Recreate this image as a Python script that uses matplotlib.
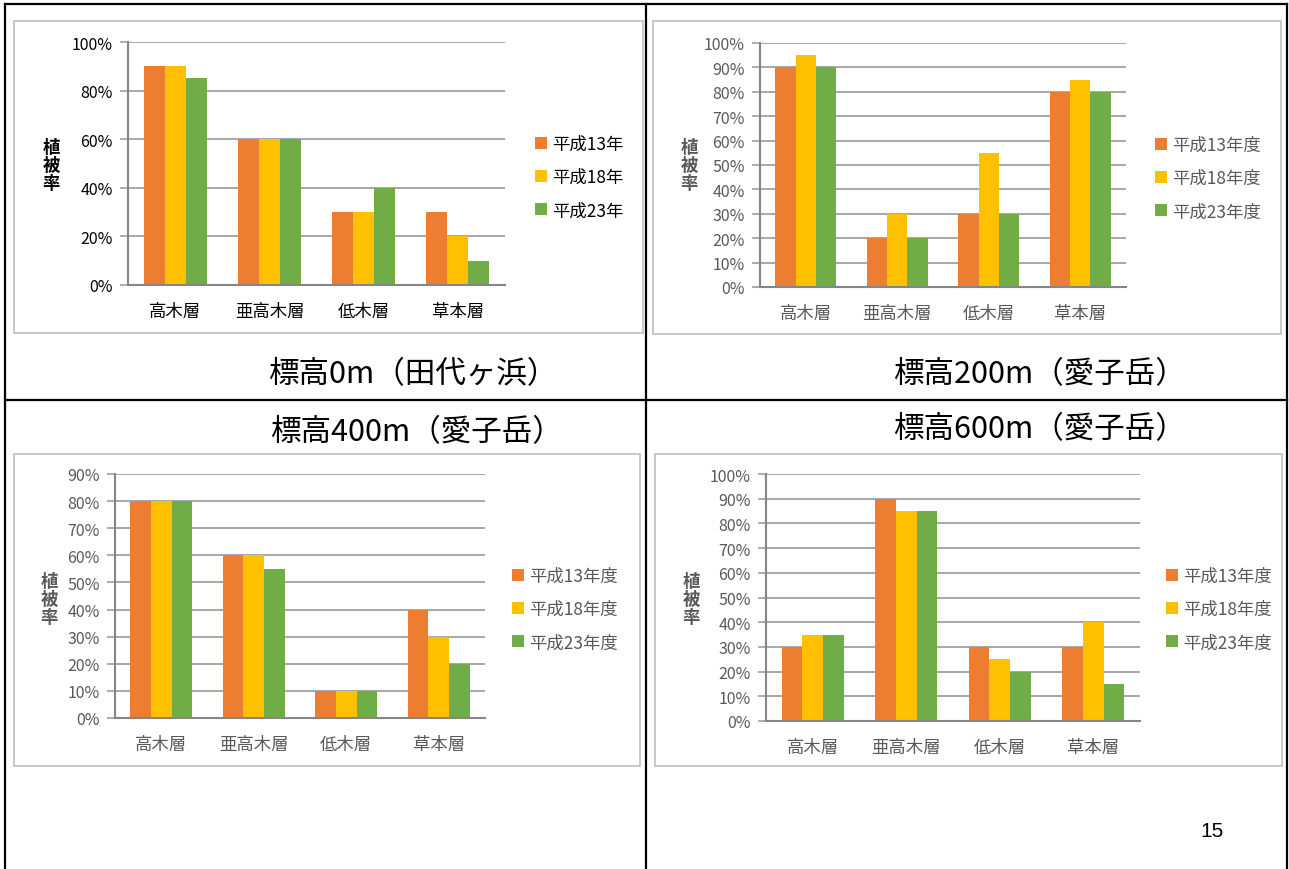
import numpy as np
import matplotlib
matplotlib.use("Agg")
import matplotlib.pyplot as plt
from matplotlib.ticker import PercentFormatter, MultipleLocator
from matplotlib.patches import Rectangle
from matplotlib.lines import Line2D

plt.rcParams['font.family'] = ['Noto Sans CJK JP', 'DejaVu Sans']

# vegetation cover (%) by layer, survey years H13 / H18 / H23
categories = ['高木層', '亜高木層', '低木層', '草本層']
years_nen = ['平成13年', '平成18年', '平成23年']
years_nendo = ['平成13年度', '平成18年度', '平成23年度']

alt0_h13 = [90, 60, 30, 30]
alt0_h18 = [90, 60, 30, 20]
alt0_h23 = [85, 60, 40, 10]

alt200_h13 = [90, 20, 30, 80]
alt200_h18 = [95, 30, 55, 85]
alt200_h23 = [90, 20, 30, 80]

alt400_h13 = [80, 60, 10, 40]
alt400_h18 = [80, 60, 10, 30]
alt400_h23 = [80, 55, 10, 20]

alt600_h13 = [30, 90, 30, 30]
alt600_h18 = [35, 85, 25, 40]
alt600_h23 = [35, 85, 20, 15]

titles = ['標高0m（田代ヶ浜）', '標高200m（愛子岳）', '標高400m（愛子岳）', '標高600m（愛子岳）']
ylabel = '植\n被\n率'
page_no = '15'

colors = ['#ED7D31', '#FFC000', '#70AD47']

W, H = 1289, 870
fig = plt.figure(figsize=(W / 100, H / 100), dpi=100)


def frac(x0, y0, x1, y1):
    return [x0 / W, 1 - y1 / H, (x1 - x0) / W, (y1 - y0) / H]


# page frame: outer border and the 2x2 table lines
bg = fig.add_axes([0, 0, 1, 1])
bg.set_xlim(0, W)
bg.set_ylim(H, 0)
bg.axis('off')
for xs, ys in [([5, 5], [5, 870]), ([1287, 1287], [5, 870]), ([5, 1287], [5, 5]),
               ([646, 646], [5, 870]), ([5, 1287], [401, 401])]:
    bg.add_line(Line2D(xs, ys, color='black', lw=1.6))
for (x0, y0, x1, y1) in [(14, 22, 643, 334), (653, 22, 1281, 335),
                         (14, 455, 640, 767), (655, 455, 1282, 767)]:
    bg.add_patch(Rectangle((x0, y0), x1 - x0, y1 - y0, fill=False, ec='#BFBFBF', lw=1.2))


def panel(box, series, names, ymax, step, txtcol, leg_xy, ylab_xy, title_xy, title):
    ax = fig.add_axes(frac(*box))
    x = np.arange(len(categories))
    w = 1 / 4.5
    for i, (vals, name) in enumerate(zip(series, names)):
        ax.bar(x + (i - 1) * w, vals, width=w, color=colors[i], label=name, zorder=2)
    ax.set_xlim(-0.5, len(categories) - 0.5)
    ax.set_ylim(0, ymax)
    ax.yaxis.set_major_locator(MultipleLocator(step))
    ax.yaxis.set_major_formatter(PercentFormatter(100, decimals=0))
    ax.set_xticks(x)
    ax.set_xticklabels(categories, fontsize=12.5, color=txtcol)
    ax.tick_params(axis='x', length=0, pad=12)
    ax.tick_params(axis='y', length=6, width=1.2, color='#A0A0A0', labelsize=11.5,
                   labelcolor=txtcol, pad=5)
    ax.grid(axis='y', color='#A0A0A0', lw=1.3)
    ax.set_axisbelow(True)
    for s in ['top', 'right']:
        ax.spines[s].set_visible(False)
    for s in ['left', 'bottom']:
        ax.spines[s].set_color('#868686')
        ax.spines[s].set_linewidth(1.5)
    ax.set_facecolor('none')
    ax.legend(loc='center left', bbox_to_anchor=(leg_xy[0] / W, 1 - leg_xy[1] / H),
              bbox_transform=fig.transFigure, frameon=False, fontsize=12.5,
              handlelength=0.7, handleheight=0.7, handletextpad=0.3,
              labelspacing=0.88, borderpad=0, borderaxespad=0, labelcolor=txtcol)
    fig.text(ylab_xy[0] / W, 1 - ylab_xy[1] / H, ylabel, fontsize=12.5, fontweight='bold',
             color=txtcol, ha='center', va='center', linespacing=1.0)
    fig.text(title_xy[0] / W, 1 - title_xy[1] / H, title, fontsize=22, color='black',
             ha='left', va='center')
    return ax


panel((128, 43, 505, 286), [alt0_h13, alt0_h18, alt0_h23], years_nen, 100, 20, '#000000',
      (535, 178), (51, 166), (268, 375), titles[0])
panel((760, 44, 1126, 288), [alt200_h13, alt200_h18, alt200_h23], years_nendo, 100, 10, '#595959',
      (1155, 179), (689, 166), (893, 375), titles[1])
panel((115, 475, 485, 719), [alt400_h13, alt400_h18, alt400_h23], years_nendo, 90, 10, '#595959',
      (512, 610), (49, 600), (270, 433), titles[2])
panel((766, 475, 1140, 722), [alt600_h13, alt600_h18, alt600_h23], years_nendo, 100, 10, '#595959',
      (1166, 610), (691, 600), (893, 430), titles[3])

fig.text(1212 / W, 1 - 832 / H, page_no, fontsize=15, family='Liberation Sans',
         ha='center', va='center')

fig.savefig('out.png', dpi=100)
